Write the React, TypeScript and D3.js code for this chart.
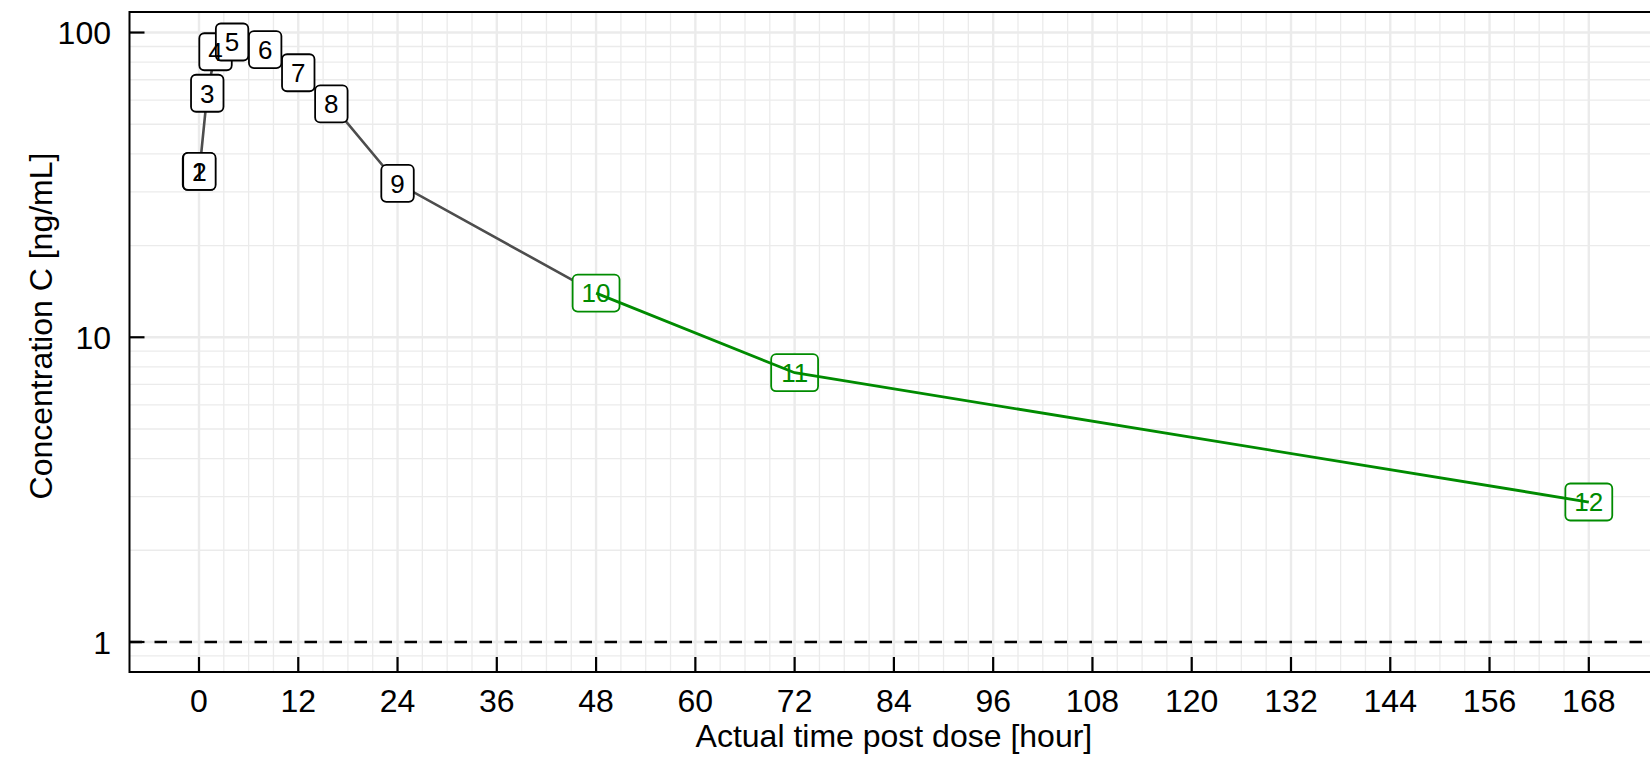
import React from "react";
import * as d3 from "d3";

// ---- data ----
const sampleIds: string[] = ["1", "2", "3", "4", "5", "6", "7", "8", "9", "10", "11", "12"];
const timeHours: number[] = [0, 0.05, 1, 2, 4, 8, 12, 16, 24, 48, 72, 168];
const concentration: number[] = [35.0, 35.0, 63.2, 86.5, 93.1, 87.9, 73.8, 58.3, 32.0, 13.96, 7.65, 2.88];
const terminalPhase: boolean[] = [false, false, false, false, false, false, false, false, false, true, true, true];
const xTicks: number[] = [0, 12, 24, 36, 48, 60, 72, 84, 96, 108, 120, 132, 144, 156, 168];
const yTicks: number[] = [1, 10, 100];
const lloq = 1;
const xTitle = "Actual time post dose [hour]";
const yTitle = "Concentration C [ng/mL]";

const W = 1650;
const H = 758;
const FONT = "'Liberation Sans', Arial, Helvetica, sans-serif";
const GREEN = "#008B00";
const GRID = "#ebebeb";

export default function App() {
  const panelLeft = 129.5;
  const panelRight = 1658.3;
  const panelTop = 12;
  const panelBottom = 672;

  // ggplot-style 5% expansion
  const xmin = d3.min(timeHours)!;
  const xmax = d3.max(timeHours)!;
  const xr = xmax - xmin;
  const x = d3.scaleLinear().domain([xmin - 0.05 * xr, xmax + 0.05 * xr]).range([panelLeft, panelRight]);

  const lmin = Math.log10(Math.min(d3.min(concentration)!, lloq));
  const lmax = Math.log10(d3.max(concentration)!);
  const lr = lmax - lmin;
  const y = d3
    .scaleLog()
    .domain([Math.pow(10, lmin - 0.05 * lr), Math.pow(10, lmax + 0.05 * lr)])
    .range([panelBottom, panelTop]);
  const [yd0, yd1] = y.domain();

  const xMinor = d3.range(0, 169, 3).filter((v) => v % 12 !== 0);
  const yMinor: number[] = [];
  for (let k = -1; k <= 2; k++) {
    for (let m = 2; m <= 9; m++) {
      const v = m * Math.pow(10, k);
      if (v > yd0 && v < yd1) yMinor.push(v);
    }
  }

  const pts = timeHours.map((t, i) => ({ t, c: concentration[i], id: sampleIds[i], term: terminalPhase[i] }));
  const line = d3
    .line<{ t: number; c: number }>()
    .x((d) => x(d.t))
    .y((d) => y(d.c));
  const firstTerm = pts.findIndex((p) => p.term);
  const blackPts = pts.slice(0, firstTerm + 1);
  const greenPts = pts.filter((p) => p.term);

  const labelFont = 26;
  const pad = 9;
  const boxH = 37;
  const axisFont = 32;

  return (
    <svg
      width={W}
      height={H}
      style={{ position: "absolute", left: 0, top: 0, background: "#fff" }}
      fontFamily={FONT}
    >
      <rect x={0} y={0} width={W} height={H} fill="#fff" />
      <defs>
        <clipPath id="panel">
          <rect x={panelLeft} y={panelTop} width={panelRight - panelLeft} height={panelBottom - panelTop} />
        </clipPath>
      </defs>
      <g clipPath="url(#panel)">
        {xMinor.map((v) => (
          <line key={"xm" + v} x1={x(v)} x2={x(v)} y1={panelTop} y2={panelBottom} stroke={GRID} strokeWidth={1.3} />
        ))}
        {yMinor.map((v) => (
          <line key={"ym" + v} x1={panelLeft} x2={panelRight} y1={y(v)} y2={y(v)} stroke={GRID} strokeWidth={1.3} />
        ))}
        {xTicks.map((v) => (
          <line key={"xg" + v} x1={x(v)} x2={x(v)} y1={panelTop} y2={panelBottom} stroke={GRID} strokeWidth={2.4} />
        ))}
        {yTicks.map((v) => (
          <line key={"yg" + v} x1={panelLeft} x2={panelRight} y1={y(v)} y2={y(v)} stroke={GRID} strokeWidth={2.4} />
        ))}
        <line
          x1={panelLeft}
          x2={panelRight}
          y1={y(lloq)}
          y2={y(lloq)}
          stroke="#000"
          strokeWidth={2.5}
          strokeDasharray="12.5 12.5"
        />
        <path d={line(blackPts) || ""} fill="none" stroke="#4d4d4d" strokeWidth={2.6} />
        {pts.map((p) => {
          const w = p.id.length * 0.556 * labelFont + 2 * pad;
          const col = p.term ? GREEN : "#000";
          return (
            <rect
              key={"b" + p.id}
              x={x(p.t) - w / 2}
              y={y(p.c) - boxH / 2}
              width={w}
              height={boxH}
              rx={5}
              ry={5}
              fill="#fff"
              stroke={col}
              strokeWidth={1.8}
            />
          );
        })}
        {pts.map((p) => (
          <text
            key={"t" + p.id}
            x={x(p.t)}
            y={y(p.c) + 0.358 * labelFont}
            textAnchor="middle"
            fontSize={labelFont}
            fill={p.term ? GREEN : "#000"}
          >
            {p.id}
          </text>
        ))}
        <path d={line(greenPts) || ""} fill="none" stroke={GREEN} strokeWidth={2.8} />
      </g>
      {/* panel border */}
      <rect
        x={panelLeft}
        y={panelTop}
        width={panelRight - panelLeft}
        height={panelBottom - panelTop}
        fill="none"
        stroke="#000"
        strokeWidth={2}
      />
      {/* ticks inward */}
      {xTicks.map((v) => (
        <line key={"xt" + v} x1={x(v)} x2={x(v)} y1={panelBottom} y2={panelBottom - 15} stroke="#000" strokeWidth={2.2} />
      ))}
      {yTicks.map((v) => (
        <line key={"yt" + v} x1={panelLeft} x2={panelLeft + 15} y1={y(v)} y2={y(v)} stroke="#000" strokeWidth={2.2} />
      ))}
      {xTicks.map((v) => (
        <text key={"xl" + v} x={x(v)} y={711.5} textAnchor="middle" fontSize={axisFont} fill="#000">
          {String(v)}
        </text>
      ))}
      {yTicks.map((v) => (
        <text key={"yl" + v} x={111} y={y(v) + 11.5} textAnchor="end" fontSize={axisFont} fill="#000">
          {String(v)}
        </text>
      ))}
      <text x={(panelLeft + panelRight) / 2} y={747.3} textAnchor="middle" fontSize={axisFont} fill="#000">
        {xTitle}
      </text>
      <text
        transform={`translate(52,326) rotate(-90)`}
        textAnchor="middle"
        fontSize={axisFont}
        fill="#000"
      >
        {yTitle}
      </text>
    </svg>
  );
}
